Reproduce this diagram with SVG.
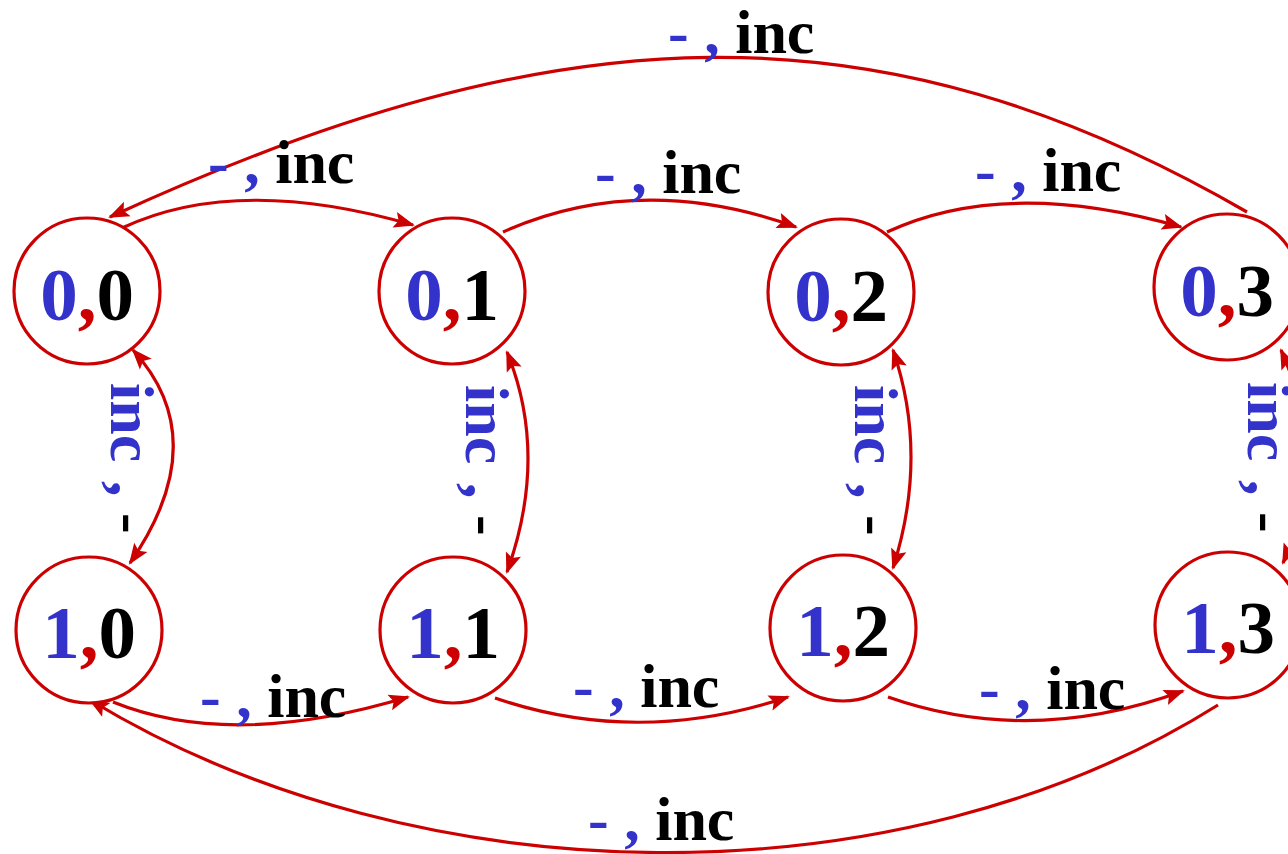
<svg xmlns="http://www.w3.org/2000/svg" width="1288" height="854" viewBox="0 0 1288 854">
<style>
.node{fill:#fff;stroke:#cc0000;stroke-width:3.2}
.nl{font-family:"Liberation Serif","Times New Roman",serif;font-weight:bold;font-size:75px;text-anchor:middle}
.el{font-family:"Liberation Serif","Times New Roman",serif;font-weight:bold;font-size:62px}
.b{fill:#3333cc}.k{fill:#000}.r{fill:#cc0000}
.edge{fill:none;stroke:#cc0000;stroke-width:3.2;marker-end:url(#ah)}
.both{marker-start:url(#ah)}
</style>
<defs>
<marker id="ah" markerUnits="userSpaceOnUse" markerWidth="26" markerHeight="22" viewBox="-22 -11 26 22" refX="0" refY="0" orient="auto-start-reverse">
<path d="M2,0 L-19,-8 L-15,0 L-19,8 Z" fill="#cc0000"/>
</marker>
</defs>
<rect width="1288" height="854" fill="#fff"/>
<g id="connectors">
<path class="edge" d="M1247,212 C880,0 560,10 110,217"/>
<path class="edge" d="M1218,705 C900,905 420,900 90,700"/>
<path class="edge" d="M122,228 Q237,174 413,225"/>
<path class="edge" d="M503,232 Q640,171 796,227"/>
<path class="edge" d="M887,232 Q1005,177 1181,227"/>
<path class="edge" d="M113,702 Q232,750 408,697"/>
<path class="edge" d="M495,698 Q638,747 788,697"/>
<path class="edge" d="M888,697 Q1030,747 1183,691"/>
<path class="edge both" d="M133,350 Q215,440 130,563"/>
<path class="edge both" d="M507,352 Q549,455 507,572"/>
<path class="edge both" d="M893,350 Q929,455 893,568"/>
<path class="edge both" d="M1281,350 Q1330,460 1283,563"/>
</g>
<g id="edge-labels">
<text class="el" x="668" y="53"><tspan class="b">- , </tspan><tspan class="k">inc</tspan></text>
<text class="el" x="208" y="183"><tspan class="b">- , </tspan><tspan class="k">inc</tspan></text>
<text class="el" x="595" y="193"><tspan class="b">- , </tspan><tspan class="k">inc</tspan></text>
<text class="el" x="975" y="191"><tspan class="b">- , </tspan><tspan class="k">inc</tspan></text>
<text class="el" x="200" y="717"><tspan class="b">- , </tspan><tspan class="k">inc</tspan></text>
<text class="el" x="573" y="707"><tspan class="b">- , </tspan><tspan class="k">inc</tspan></text>
<text class="el" x="979" y="709"><tspan class="b">- , </tspan><tspan class="k">inc</tspan></text>
<text class="el" x="588" y="840"><tspan class="b">- , </tspan><tspan class="k">inc</tspan></text>
<text class="el" transform="translate(111,383) rotate(90)"><tspan class="b" x="0">inc</tspan><tspan class="b" x="98">,</tspan><tspan class="k" x="130">-</tspan></text>
<text class="el" transform="translate(466,385) rotate(90)"><tspan class="b" x="0">inc</tspan><tspan class="b" x="98">,</tspan><tspan class="k" x="130">-</tspan></text>
<text class="el" transform="translate(855,385) rotate(90)"><tspan class="b" x="0">inc</tspan><tspan class="b" x="98">,</tspan><tspan class="k" x="130">-</tspan></text>
<text class="el" transform="translate(1248,382) rotate(90)"><tspan class="b" x="0">inc</tspan><tspan class="b" x="98">,</tspan><tspan class="k" x="130">-</tspan></text>
</g>
<g id="n00"><circle class="node" cx="87" cy="291" r="73"/><text class="nl" x="87" y="320"><tspan class="b">0</tspan><tspan class="r">,</tspan><tspan class="k">0</tspan></text></g>
<g id="n01"><circle class="node" cx="452" cy="291" r="73"/><text class="nl" x="452" y="320"><tspan class="b">0</tspan><tspan class="r">,</tspan><tspan class="k">1</tspan></text></g>
<g id="n02"><circle class="node" cx="841" cy="292" r="73"/><text class="nl" x="841" y="321"><tspan class="b">0</tspan><tspan class="r">,</tspan><tspan class="k">2</tspan></text></g>
<g id="n03"><circle class="node" cx="1227" cy="287" r="73"/><text class="nl" x="1227" y="316"><tspan class="b">0</tspan><tspan class="r">,</tspan><tspan class="k">3</tspan></text></g>
<g id="n10"><circle class="node" cx="89" cy="630" r="73"/><text class="nl" x="89" y="658"><tspan class="b">1</tspan><tspan class="r">,</tspan><tspan class="k">0</tspan></text></g>
<g id="n11"><circle class="node" cx="453" cy="630" r="73"/><text class="nl" x="453" y="658"><tspan class="b">1</tspan><tspan class="r">,</tspan><tspan class="k">1</tspan></text></g>
<g id="n12"><circle class="node" cx="843" cy="628" r="73"/><text class="nl" x="843" y="656"><tspan class="b">1</tspan><tspan class="r">,</tspan><tspan class="k">2</tspan></text></g>
<g id="n13"><circle class="node" cx="1228" cy="625" r="73"/><text class="nl" x="1228" y="653"><tspan class="b">1</tspan><tspan class="r">,</tspan><tspan class="k">3</tspan></text></g>
</svg>
